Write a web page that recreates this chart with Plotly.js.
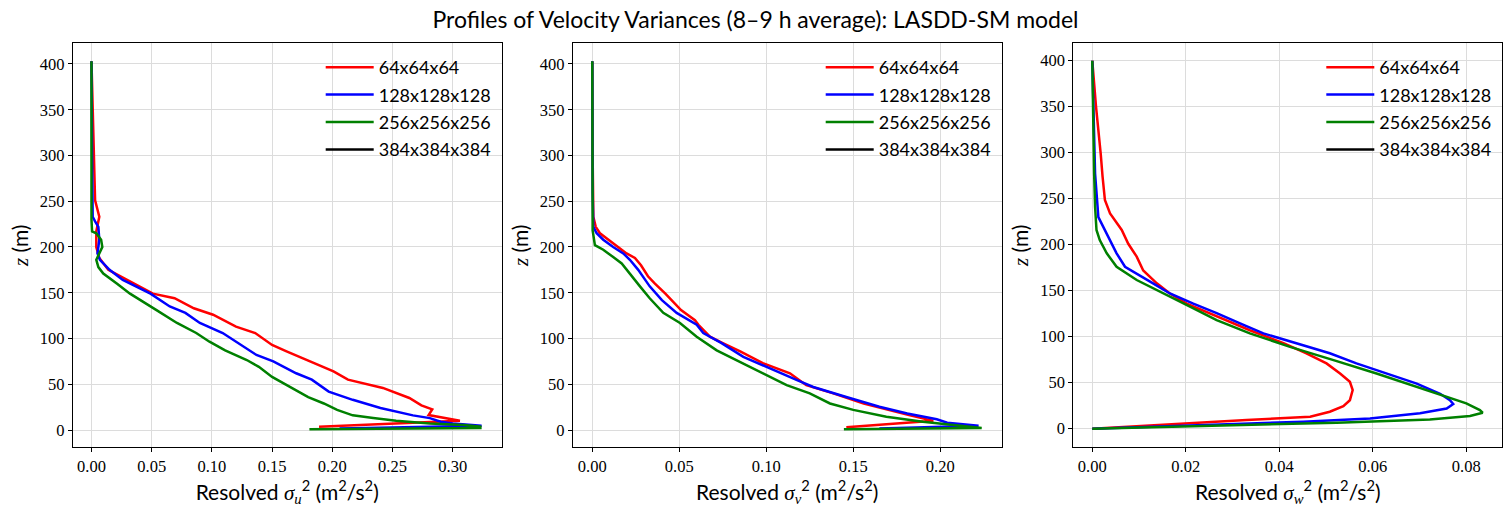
<!DOCTYPE html>
<html>
<head>
<meta charset="utf-8">
<script src="https://cdn.plot.ly/plotly-3.0.1.min.js"></script>
<style>
  html, body { margin: 0; padding: 0; background: #ffffff; }
  #chart { width: 1511px; height: 511px; }
</style>
</head>
<body>
<div id="chart"></div>
<script>
// Grid resolutions compared
const runNames = ['64x64x64', '128x128x128', '256x256x256', '384x384x384'];
const runColors = ['#ff0000', '#0000ff', '#008000', '#000000'];

// ---- sigma_u^2 profiles (m^2/s^2) vs height z (m) ----
const zU64  = [3.6, 10.2, 16.4, 22.5, 27, 35, 46, 55, 64, 75, 86, 93, 106, 113, 126, 133, 144, 149, 162, 175, 188, 200, 217, 233, 251, 300, 353, 403];
const sU64  = [0.189, 0.306, 0.280, 0.283, 0.274, 0.264, 0.242, 0.213, 0.201, 0.181, 0.162, 0.150, 0.136, 0.120, 0.101, 0.085, 0.069, 0.051, 0.033, 0.014, 0.0065, 0.004, 0.004, 0.0065, 0.003, 0.002, 0.0015, 0];
const zU128 = [1.6, 4.7, 7, 9, 13, 16, 24, 33, 42, 55, 62, 75, 82, 89, 106, 117, 128, 135, 149, 164, 175, 186, 193, 208, 222, 228, 233, 300, 403];
const sU128 = [0.206, 0.324, 0.300, 0.290, 0.281, 0.267, 0.240, 0.217, 0.197, 0.183, 0.170, 0.151, 0.137, 0.129, 0.109, 0.090, 0.078, 0.065, 0.049, 0.026, 0.015, 0.007, 0.005, 0.0065, 0.0057, 0.003, 0.001, 0.0005, 0];
const zU256 = [0.8, 2.3, 3.6, 5.5, 7, 10, 13, 16, 22, 29, 36, 47, 58, 69, 76.5, 87, 96.5, 106, 117, 131, 142, 149, 160, 171, 178, 186, 193, 200, 208, 215, 217, 230, 403];
const sU256 = [0.181, 0.323, 0.323, 0.309, 0.281, 0.253, 0.234, 0.217, 0.204, 0.193, 0.180, 0.165, 0.150, 0.139, 0.129, 0.111, 0.098, 0.087, 0.071, 0.054, 0.040, 0.032, 0.021, 0.0098, 0.0057, 0.004, 0.0065, 0.009, 0.008, 0.004, 0.0005, 0, 0];
// the 384^3 run has no profile in this window; it keeps its legend entry
const zU384 = [null];
const sU384 = [null];

// ---- sigma_v^2 profiles ----
const zV64  = [3.1, 10, 16, 22, 29, 40, 49, 58, 62, 73, 86, 95, 102, 115, 120, 131, 142, 149, 160, 168, 180, 188, 193, 200, 208, 215, 222, 233, 300, 403];
const sV64  = [0.146, 0.196, 0.1826, 0.171, 0.156, 0.1385, 0.123, 0.1165, 0.1136, 0.098, 0.085, 0.075, 0.0676, 0.061, 0.059, 0.051, 0.0456, 0.042, 0.036, 0.032, 0.028, 0.0245, 0.0197, 0.015, 0.0092, 0.0044, 0.002, 0.0006, 0.0002, 0];
const zV128 = [1.6, 4.7, 8, 11.7, 18, 25.5, 36, 47, 55, 67, 80, 95, 106, 115, 128, 142, 157, 175, 186, 193, 200, 208, 215, 222, 260, 403];
const sV128 = [0.165, 0.222, 0.204, 0.198, 0.181, 0.165, 0.146, 0.127, 0.117, 0.102, 0.0868, 0.0743, 0.0638, 0.060, 0.0485, 0.040, 0.033, 0.0264, 0.0216, 0.0178, 0.012, 0.0063, 0.0025, 0.0006, 0.0002, 0];
const zV256 = [0.8, 2.3, 5.5, 9, 14.6, 22, 29, 40, 49, 62, 75, 87, 102, 117, 128, 144, 157, 171, 182, 189, 197, 202, 211, 218, 403];
const sV256 = [0.1446, 0.2238, 0.2075, 0.190, 0.169, 0.150, 0.1366, 0.125, 0.1117, 0.098, 0.085, 0.0715, 0.060, 0.0504, 0.0408, 0.033, 0.0274, 0.0216, 0.0169, 0.012, 0.0063, 0.0015, 0.001, 0.0002, 0];
const zV384 = [null];
const sV384 = [null];

// ---- sigma_w^2 profiles ----
const zW64  = [0, 5, 9.4, 13, 18.5, 24.6, 31, 42, 51, 60, 71, 82, 93, 107, 122, 136, 147, 158, 172, 187, 201, 216, 234, 248.6, 274, 299, 350, 400];
const sW64  = [0, 0.0166, 0.033, 0.0466, 0.0508, 0.0537, 0.0551, 0.0557, 0.0551, 0.053, 0.0501, 0.0458, 0.0409, 0.0337, 0.0266, 0.0202, 0.0166, 0.0138, 0.0109, 0.0095, 0.0077, 0.0063, 0.0038, 0.0027, 0.0022, 0.0018, 0.0008, 0];
const zW128 = [0, 4, 7.6, 11.2, 16.7, 22, 26.8, 31, 38, 49, 60, 71, 82, 92.8, 103.6, 114.5, 125.7, 136, 147, 158, 169, 176, 190.6, 205, 220, 230, 277, 350, 400];
const sW128 = [0, 0.0237, 0.0451, 0.0594, 0.0701, 0.0758, 0.0772, 0.0765, 0.0744, 0.0694, 0.063, 0.0565, 0.0508, 0.0437, 0.0366, 0.0316, 0.0266, 0.0216, 0.0166, 0.013, 0.0095, 0.007, 0.0052, 0.0038, 0.0024, 0.0013, 0.0006, 0.0002, 0];
const zW256 = [0, 2.9, 6.5, 10, 13.8, 17.4, 20.3, 27.5, 34.8, 45.6, 60, 74.6, 89, 103.6, 118, 132.6, 147, 161.6, 176, 190.6, 205, 216, 241, 277, 400];
const sW256 = [0, 0.0237, 0.0523, 0.0722, 0.0808, 0.0835, 0.0829, 0.080, 0.0758, 0.0694, 0.0608, 0.0516, 0.0423, 0.0337, 0.0266, 0.0209, 0.0152, 0.0095, 0.0052, 0.0031, 0.0016, 0.0009, 0.0006, 0.0004, 0];
const zW384 = [null];
const sW384 = [null];

const panels = [
  { comp: 'u', z: [zU64, zU128, zU256, zU384], s: [sU64, sU128, sU256, sU384] },
  { comp: 'v', z: [zV64, zV128, zV256, zV384], s: [sV64, sV128, sV256, sV384] },
  { comp: 'w', z: [zW64, zW128, zW256, zW384], s: [sW64, sW128, sW256, sW384] }
];

const W = 1511, H = 511;
const sansFont = 'Lato, "Open Sans", sans-serif';
const serifFont = '"Liberation Serif", "DejaVu Serif", serif';

// pixel boxes of the three axes
const boxes = [
  { x0: 72.7, x1: 501.7, xr: [-0.0156, 0.3407], dt: 0.05, yr: [-18.9, 422.6] },
  { x0: 572.7, x1: 1001.7, xr: [-0.01126, 0.2353], dt: 0.05, yr: [-18.9, 422.6] },
  { x0: 1073.3, x1: 1502.3, xr: [-0.00406, 0.0877], dt: 0.02, yr: [-20.2, 418.9] }
];
const yTop = 43.3, yBot = 447.3;

const traces = [];
const layout = {
  width: W, height: H,
  margin: { l: 0, r: 0, t: 0, b: 0 },
  paper_bgcolor: '#ffffff',
  plot_bgcolor: '#ffffff',
  showlegend: true,
  font: { family: sansFont, color: '#000000' },
  title: {
    text: 'Profiles of Velocity Variances (8–9 h average): LASDD-SM model',
    font: { family: sansFont, size: 23, color: '#000000' },
    x: 0.5, xanchor: 'center', xref: 'paper',
    y: 1 - 20 / H, yanchor: 'middle', yref: 'container'
  }
};

panels.forEach((p, i) => {
  const n = i === 0 ? '' : String(i + 1);
  const legendId = 'legend' + n;
  for (let k = 0; k < runNames.length; k++) {
    traces.push({
      type: 'scatter', mode: 'lines',
      x: p.s[k], y: p.z[k],
      xaxis: 'x' + n, yaxis: 'y' + n,
      name: runNames[k],
      legend: legendId,
      legendgroup: 'g' + i + '_' + k,
      showlegend: true,
      line: { color: runColors[k], width: 2.5 },
      hoverinfo: 'skip'
    });
  }
  const b = boxes[i];
  const axCommon = {
    showline: true, linecolor: '#000000', linewidth: 1, mirror: true,
    ticks: 'outside', ticklen: 4, tickwidth: 1, tickcolor: '#000000',
    showgrid: true, gridcolor: '#dcdcdc', gridwidth: 0.8,
    zeroline: false,
    tickfont: { family: serifFont, size: 16.5, color: '#000000' }
  };
  layout['xaxis' + n] = Object.assign({}, axCommon, {
    domain: [b.x0 / W, b.x1 / W],
    anchor: 'y' + n,
    range: b.xr, dtick: b.dt, tick0: 0, tickformat: '.2f',
    title: {
      text: 'Resolved <span style="font-family:Liberation Serif"><i>σ</i><sub><i>' + p.comp + '</i></sub></span><sup>2</sup> (m<sup>2</sup>/s<sup>2</sup>)',
      font: { family: sansFont, size: 21, color: '#000000' },
      standoff: 5
    }
  });
  layout['yaxis' + n] = Object.assign({}, axCommon, {
    domain: [1 - yBot / H, 1 - yTop / H],
    anchor: 'x' + n,
    range: b.yr, dtick: 50, tick0: 0,
    title: {
      text: '<span style="font-family:Liberation Serif"><i>z</i></span> (m)',
      font: { family: sansFont, size: 21, color: '#000000' },
      standoff: 5
    }
  });
  layout[legendId] = {
    x: (b.x0 + 248) / W, xanchor: 'left', xref: 'paper',
    y: 1 - 49 / H, yanchor: 'top', yref: 'paper',
    bgcolor: 'rgba(255,255,255,0)',
    borderwidth: 0,
    font: { family: sansFont, size: 18, color: '#000000' },
    traceorder: 'grouped',
    tracegroupgap: 1,
    itemwidth: 48
  };
});

Plotly.newPlot('chart', traces, layout, { displayModeBar: false, responsive: false });
</script>
</body>
</html>
